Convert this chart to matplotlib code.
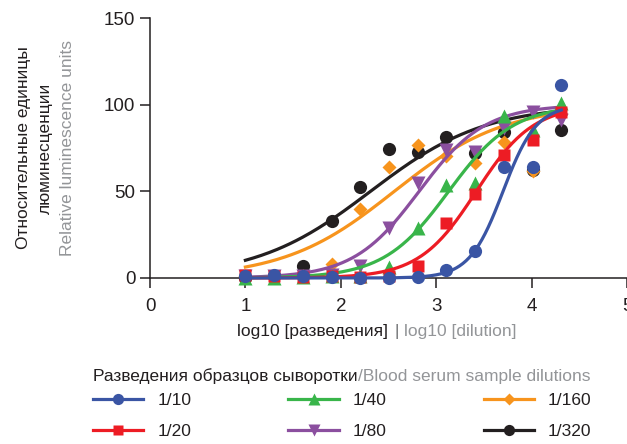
import numpy as np
import matplotlib.pyplot as plt
from matplotlib.lines import Line2D

plt.rcParams['font.family'] = ['Liberation Sans', 'DejaVu Sans']

W, H = 627, 444

# serum dilution series (x axis is log10 of dilution)
dilutions = [10, 20, 40, 80, 160, 320, 640, 1280, 2560, 5120, 10240, 20480]

labels = ['1/10', '1/20', '1/40', '1/80', '1/160', '1/320']
colors = ['#3a55a4', '#ed1c24', '#39b54a', '#8b4f9f', '#f7941d', '#231f20']
markers = ['o', 's', '^', 'v', 'D', 'o']
msizes = [9.5, 8.5, 9.5, 9.5, 7.5, 9.5]

rlu_10 = [1, 2, 1, 0.5, 0, 0, 0.6, 4.8, 15.6, 64, 64.4, 111.5]
rlu_20 = [2, 1, 0.5, 1, 0.5, 1, 7.1, 32, 48.6, 71.1, 79.8, 96.1]
rlu_40 = [0, 0, 0.5, 1, 1, 6.3, 28.8, 53.8, 54.8, 93.3, 85.6, 101.3]
rlu_80 = [1, 1, 1, 2, 7.1, 28.8, 54.8, 74, 73, 86.5, 96, 91]
rlu_160 = [1, 1, 1, 8.3, 39.8, 64, 76.9, 70.6, 66.7, 78.8, 62, 95]
rlu_320 = [0, 1, 6.7, 33.2, 52.5, 74.6, 72.5, 81.7, 72, 84.6, 62.5, 85.2]
series = [rlu_10, rlu_20, rlu_40, rlu_80, rlu_160, rlu_320]

# fitted dose-response curves
log_ec50 = [3.70, 3.42, 3.13, 2.82, 2.56, 2.31]
hill = [2.47, 1.45, 1.28, 1.26, 0.75, 0.72]
top = 100.0
bottom = 0.0

x = np.log10(dilutions)
xf = np.linspace(x[0], x[-1], 200)

fig = plt.figure(figsize=(W / 100, H / 100), dpi=100)
ax = fig.add_axes([150 / W, 166 / H, 477 / W, 259.7 / H])

for i in reversed(range(6)):
    yf = bottom + (top - bottom) / (1 + 10 ** ((log_ec50[i] - xf) * hill[i]))
    ax.plot(xf, yf, color=colors[i], lw=2.3, clip_on=False, zorder=2 + 2 * (5 - i))
    ax.plot(x, series[i], ls='none', marker=markers[i], ms=msizes[i],
            color=colors[i], mec='none', clip_on=False, zorder=3 + 2 * (5 - i))

ax.set_xlim(0, 5)
ax.set_ylim(0, 150)
ax.set_xticks([0, 1, 2, 3, 4, 5])
ax.set_yticks([0, 50, 100, 150])
for s in ['top', 'right']:
    ax.spines[s].set_visible(False)
for s in ['left', 'bottom']:
    ax.spines[s].set_linewidth(1.1)
    ax.spines[s].set_color('#231f20')
ax.tick_params(axis='both', length=7.5, width=1.1, color='#231f20',
               labelsize=13.5, labelcolor='#231f20')
ax.tick_params(axis='x', pad=7)
ax.tick_params(axis='y', pad=3)

grey = '#939598'
fs = 12.5

def px(xp, yp):
    return xp / W, 1 - yp / H

# y label, three rotated lines
fig.text(*px(28, 148), 'Относительные единицы', rotation=90, rotation_mode='anchor',
         ha='center', va='baseline', fontsize=fs, color='#231f20')
fig.text(*px(50, 148), 'люминесценции', rotation=90, rotation_mode='anchor',
         ha='center', va='baseline', fontsize=fs, color='#231f20')
fig.text(*px(72, 148), 'Relative luminescence units', rotation=90, rotation_mode='anchor',
         ha='center', va='baseline', fontsize=fs, color=grey)

renderer = fig.canvas.get_renderer()

def right_px(t):
    return t.get_window_extent(renderer).x1

# x label: black part, separator, grey part
t1 = fig.text(*px(237, 336), 'log10 [разведения]', ha='left', va='baseline',
              fontsize=fs, color='#231f20')
x1 = right_px(t1)
t2 = fig.text((x1 + 6) / W, 1 - 336 / H, '|', ha='left', va='baseline',
              fontsize=fs, color='#6d6e71')
x2 = right_px(t2)
fig.text((x2 + 6) / W, 1 - 336 / H, 'log10 [dilution]', ha='left', va='baseline',
         fontsize=fs, color=grey)

# legend title
t3 = fig.text(*px(93, 381), 'Разведения образцов сыворотки', ha='left', va='baseline',
              fontsize=fs, color='#231f20')
fig.text(right_px(t3) / W, 1 - 381 / H, '/Blood serum sample dilutions', ha='left',
         va='baseline', fontsize=fs, color=grey)

handles = [Line2D([], [], color=colors[i], lw=2.3, marker=markers[i],
                  ms=msizes[i] * 0.85, mec='none') for i in range(6)]
fig.legend(handles, labels, ncol=3, frameon=False, fontsize=fs,
           loc='upper left', bbox_to_anchor=px(93, 393), borderpad=0,
           borderaxespad=0, handlelength=2.9, handletextpad=0.8,
           columnspacing=5.6, labelspacing=0.92, labelcolor='#231f20')

fig.savefig('out.png', dpi=100)
